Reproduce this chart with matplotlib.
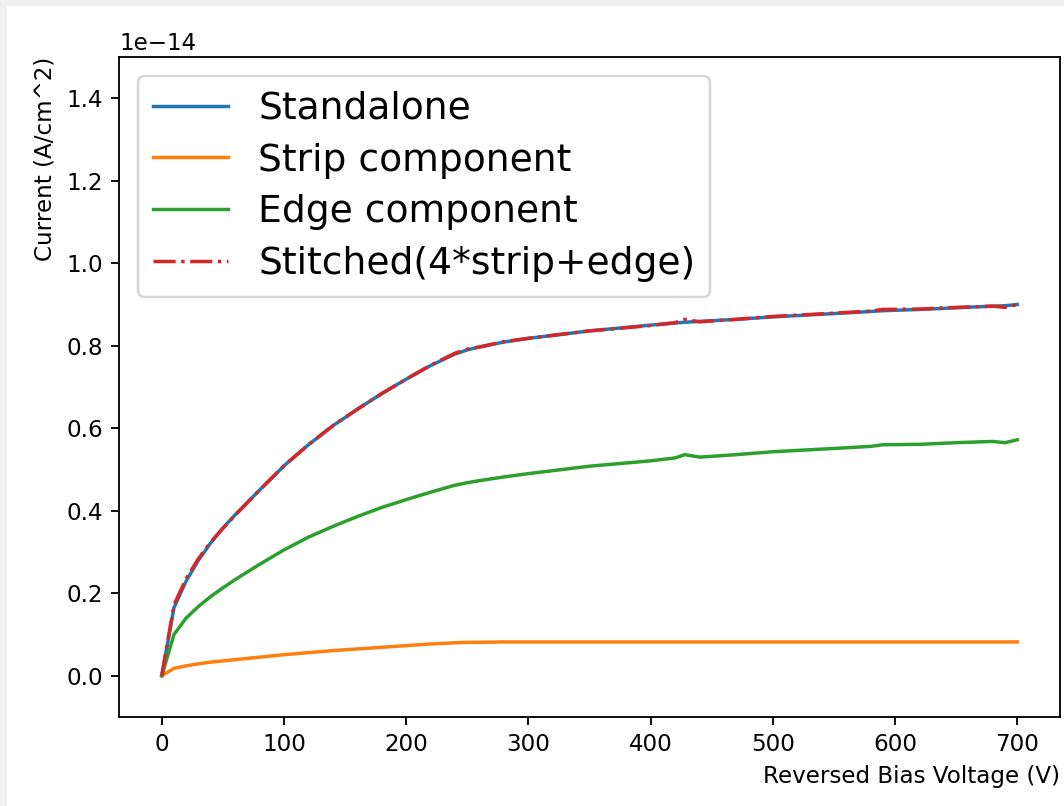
import matplotlib
matplotlib.use("Agg")
import matplotlib.pyplot as plt
from matplotlib.patches import Rectangle

# Reverse bias voltage (V)
voltage = [0, 10, 20, 30, 40, 50, 60, 80, 100, 120, 140, 160, 180, 200, 220,
           240, 250, 260, 280, 300, 350, 400, 420, 428, 440, 470, 500, 550,
           580, 590, 620, 650, 680, 690, 700]

# Current densities in units of 1e-14 A/cm^2
standalone = [0, .165, .230, .280, .322, .358, .390, .450, .509, .560, .606,
              .646, .684, .719, .752, .780, .790, .797, .809, .818, .836,
              .850, .855, .857, .859, .864, .870, .878, .883, .885, .888,
              .892, .896, .897, .900]
strip = [0, .018, .024, .029, .033, .036, .039, .045, .051, .056, .061, .065,
         .069, .073, .077, .080, .081, .081, .082, .082, .082, .082, .082,
         .082, .082, .082, .082, .082, .082, .082, .082, .082, .082, .082,
         .082]
edge = [0, .100, .140, .168, .192, .213, .233, .270, .305, .336, .362, .386,
        .408, .427, .445, .462, .468, .473, .482, .490, .508, .521, .528,
        .536, .530, .536, .543, .551, .556, .560, .561, .565, .568, .565,
        .572]
stitched = [0, .172, .236, .284, .324, .357, .389, .450, .509, .560, .606,
            .646, .684, .719, .753, .782, .792, .797, .810, .818, .836, .849,
            .856, .864, .858, .864, .871, .879, .884, .888, .889, .893, .896,
            .893, .900]

scale = 1e-14
DPI = 166

fig = plt.figure(figsize=(1064 / DPI, 806 / DPI), dpi=DPI)
# light grey frame along the top and left edges
fig.patches.append(Rectangle((0, 1 - 6 / 806), 1, 6 / 806, transform=fig.transFigure,
                             facecolor="#f0f0f0", edgecolor="none", zorder=0))
fig.patches.append(Rectangle((0, 0), 7 / 1064, 1, transform=fig.transFigure,
                             facecolor="#f0f0f0", edgecolor="none", zorder=0))

ax = fig.add_axes([119 / 1064, 89 / 806, 941 / 1064, 660 / 806])

ax.plot(voltage, [v * scale for v in standalone], label="Standalone")
ax.plot(voltage, [v * scale for v in strip], label="Strip component")
ax.plot(voltage, [v * scale for v in edge], label="Edge component")
ax.plot(voltage, [v * scale for v in stitched], "-.", label="Stitched(4*strip+edge)")

ax.set_ylim(-0.1e-14, 1.5e-14)
ax.set_xlabel("Reversed Bias Voltage (V)", loc="right")
ax.set_ylabel("Current (A/cm^2)", loc="top")
ax.legend(fontsize=16.3, loc="upper left", labelspacing=0.42)

fig.savefig("out.png", dpi=DPI)
